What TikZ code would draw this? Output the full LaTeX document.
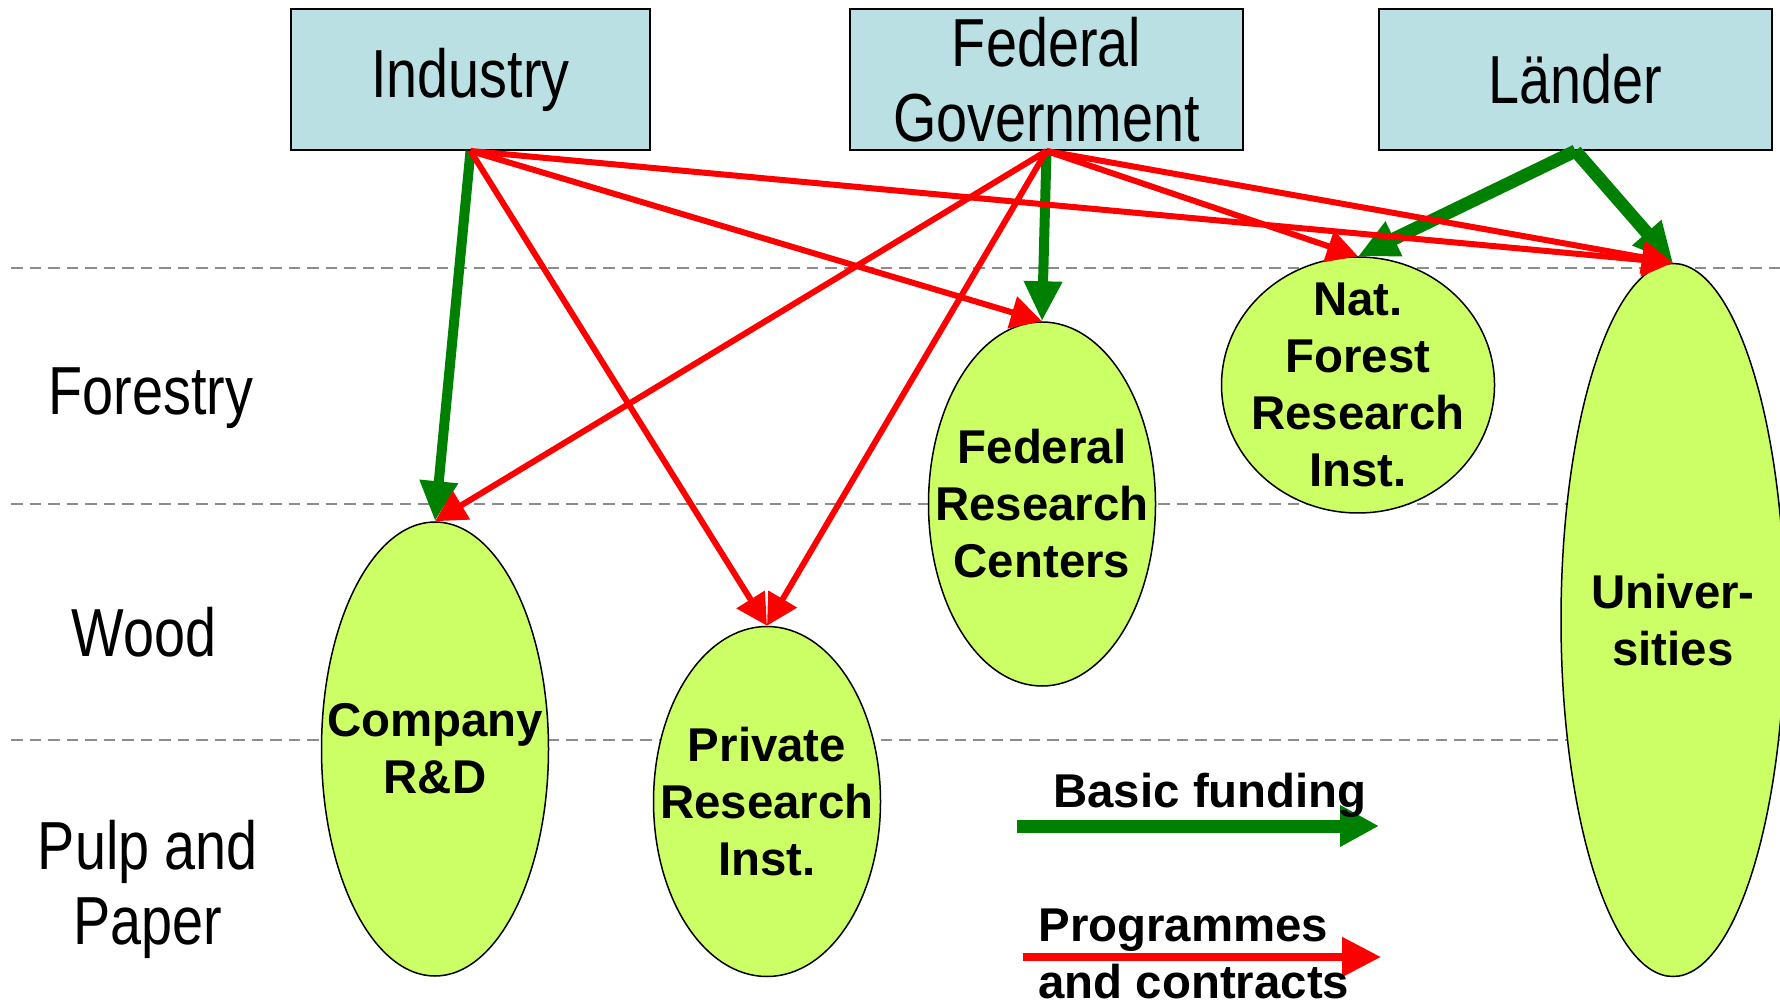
\documentclass[tikz,border=0pt]{standalone}
\usepackage{fontspec}
\setmainfont{Liberation Sans}
\newfontfamily\narrowsans[FakeStretch=0.82]{Liberation Sans}
\usetikzlibrary{arrows.meta,shapes.geometric}
\definecolor{boxblue}{HTML}{BBE0E3}
\definecolor{ellgreen}{HTML}{CCFF66}
\definecolor{fundgreen}{HTML}{008000}
\definecolor{progred}{HTML}{FF0000}
\definecolor{gridgray}{HTML}{8C8C8C}
\tikzset{
 topbox/.style={draw=black, line width=1pt, fill=boxblue, minimum width=179.5pt, minimum height=70.5pt, inner sep=0pt, font=\narrowsans\fontsize{34}{37.5}\selectfont, align=center},
 sector/.style={font=\narrowsans\fontsize{34}{37.5}\selectfont, align=center, inner sep=0pt},
 inst/.style={ellipse, draw=black, line width=0.75pt, fill=ellgreen, inner sep=0pt},
 instlabel/.style={font=\fontsize{23.7}{28.5}\selectfont\bfseries, align=center, inner sep=0pt},
 basic/.style={draw=fundgreen, line width=5pt, -{Triangle[length=20pt,width=18pt]}},
 prog/.style={draw=progred, line width=3pt, -{Triangle[length=15.5pt,width=16pt]}},
 legbasic/.style={draw=fundgreen, line width=6.5pt, -{Triangle[length=19.5pt,width=19.5pt]}},
 legprog/.style={draw=progred, line width=4pt, -{Triangle[length=19.5pt,width=19pt]}},
 divider/.style={draw=gridgray, line width=1pt, dash pattern=on 5.75pt off 3.5pt},
}
\begin{document}
\begin{tikzpicture}[x=0.5pt, y=-0.5pt]
\useasboundingbox (0,0) rectangle (1780,1004);
% sector dividers
\draw[divider] (11,268) -- (1780,268);
\draw[divider] (11,504) -- (1780,504);
\draw[divider] (11,740) -- (1780,740);
% sector labels
\node[sector, anchor=base] (forestry) at (151,415) {Forestry};
\node[sector, anchor=base] (wood) at (144,656) {Wood};
\node[sector, anchor=center] (pulp) at (148,889) {Pulp and\\Paper};
% funders
\node[topbox] (ind) at (470.5,79.5) {Industry};
\node[topbox, minimum width=196.5pt] (fed) at (1046.5,79.5) {Federal\\Government};
\node[topbox, minimum width=196.5pt] (lae) at (1575.5,79.5) {Länder};
% institutions
\node[inst, minimum width=113.5pt, minimum height=227pt, label={[instlabel]center:Company\\R\&D}] (comp) at (435,749) {};
\node[inst, minimum width=113.5pt, minimum height=175pt, label={[instlabel]center:Private\\Research\\Inst.}] (priv) at (767,801.5) {};
\node[inst, minimum width=113.5pt, minimum height=182pt, label={[instlabel]center:Federal\\Research\\Centers}] (frc) at (1042,504) {};
\node[inst, minimum width=136.5pt, minimum height=128pt, label={[instlabel]center:Nat.\\Forest\\Research\\Inst.}] (nfri) at (1358,385) {};
\node[inst, minimum width=112pt, minimum height=356.5pt, label={[instlabel]center:Univer-\\sities}] (uni) at (1673,620) {};
% basic funding
\draw[basic] (ind.south) -- (comp.north);
\draw[basic] (fed.south) -- (frc.north);
\draw[basic, line width=6.5pt] (lae.south) -- (nfri.north);
\draw[basic, line width=6.5pt] (lae.south) -- (uni.north);
% programmes and contracts
\draw[prog] (ind.south) -- (priv.north);
\draw[prog] (ind.south) -- (frc.north);
\draw[prog] (ind.south) -- (uni.north);
\draw[prog] (fed.south) -- (comp.north);
\draw[prog] (fed.south) -- (priv.north);
\draw[prog] (fed.south) -- (nfri.north);
\draw[prog] (fed.south) -- (uni.north);
% legend
\coordinate (lgbs) at (1017,826);
\coordinate (lgbe) at (1379,826);
\coordinate (lgps) at (1023,957);
\coordinate (lgpe) at (1381,957);
\draw[legbasic] (lgbs) -- (lgbe);
\draw[legprog] (lgps) -- (lgpe);
\node[instlabel, anchor=base west] (lgb) at (1053,807) {Basic funding};
\node[instlabel, anchor=north west, align=left] (lgp) at (1038,908) {Programmes\\and contracts};
\end{tikzpicture}
\end{document}
